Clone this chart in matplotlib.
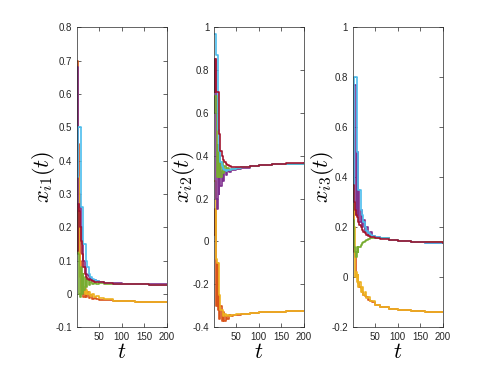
import matplotlib
matplotlib.use("Agg")
import matplotlib.pyplot as plt

plt.rcParams['mathtext.fontset'] = 'cm'
plt.rcParams['axes.unicode_minus'] = False
plt.rcParams['font.family'] = ['Liberation Sans', 'DejaVu Sans']

# Time breakpoints (stairs change value here)
t = [1, 3, 5, 7, 9, 11, 13, 15, 18, 21, 24, 27, 30, 34, 38, 42, 50, 60, 80, 100, 130, 160, 200]

# Component 1
x1_orange = [0.70, 0.45, 0.30, 0.10, 0.02, 0.00, 0.02, -0.01, 0.015, -0.01, 0.005, -0.012, -0.005, -0.015, -0.012, -0.017, -0.018, -0.020, -0.022, -0.023, -0.024, -0.025, -0.025]
x1_yellow = [0.46, 0.35, 0.12, 0.05, 0.00, 0.03, 0.01, 0.02, 0.00, 0.01, -0.002, 0.005, -0.006, -0.002, -0.010, -0.008, -0.013, -0.017, -0.021, -0.023, -0.024, -0.025, -0.025]
x1_purple = [0.68, 0.27, 0.26, 0.26, 0.20, 0.15, 0.12, 0.10, 0.08, 0.06, 0.055, 0.05, 0.045, 0.042, 0.040, 0.038, 0.035, 0.033, 0.031, 0.030, 0.029, 0.028, 0.027]
x1_green = [0.25, 0.12, 0.00, -0.01, 0.08, 0.00, 0.06, 0.01, 0.05, 0.02, 0.04, 0.025, 0.035, 0.028, 0.032, 0.030, 0.031, 0.030, 0.029, 0.028, 0.028, 0.027, 0.027]
x1_cyan = [0.35, 0.50, 0.50, 0.50, 0.26, 0.26, 0.26, 0.15, 0.15, 0.10, 0.08, 0.06, 0.05, 0.045, 0.040, 0.037, 0.034, 0.032, 0.030, 0.029, 0.028, 0.027, 0.027]
x1_red = [0.13, 0.27, 0.25, 0.20, 0.16, 0.12, 0.10, 0.08, 0.06, 0.05, 0.045, 0.042, 0.040, 0.038, 0.036, 0.035, 0.034, 0.032, 0.030, 0.029, 0.028, 0.027, 0.027]

# Component 2
x2_orange = [0.03, 0.15, -0.30, -0.10, -0.32, -0.25, -0.36, -0.30, -0.37, -0.33, -0.37, -0.35, -0.36, -0.345, -0.35, -0.345, -0.345, -0.34, -0.335, -0.33, -0.328, -0.326, -0.325]
x2_yellow = [0.28, 0.28, -0.08, -0.10, -0.10, -0.25, -0.25, -0.32, -0.32, -0.35, -0.34, -0.35, -0.345, -0.35, -0.345, -0.345, -0.34, -0.338, -0.334, -0.33, -0.328, -0.326, -0.325]
x2_purple = [0.70, 0.85, 0.20, 0.15, 0.45, 0.22, 0.40, 0.26, 0.33, 0.28, 0.33, 0.31, 0.33, 0.325, 0.335, 0.335, 0.34, 0.345, 0.352, 0.357, 0.361, 0.363, 0.365]
x2_green = [0.60, 0.68, 0.68, 0.30, 0.45, 0.30, 0.40, 0.30, 0.37, 0.32, 0.35, 0.33, 0.345, 0.335, 0.34, 0.34, 0.342, 0.346, 0.352, 0.357, 0.361, 0.363, 0.365]
x2_cyan = [0.97, 0.97, 0.87, 0.87, 0.52, 0.50, 0.42, 0.37, 0.35, 0.34, 0.335, 0.33, 0.335, 0.335, 0.338, 0.34, 0.342, 0.346, 0.352, 0.357, 0.361, 0.363, 0.365]
x2_red = [0.70, 0.85, 0.70, 0.70, 0.70, 0.50, 0.50, 0.42, 0.40, 0.38, 0.37, 0.36, 0.355, 0.35, 0.348, 0.347, 0.347, 0.349, 0.354, 0.358, 0.362, 0.364, 0.365]

# Component 3
x3_orange = [0.57, 0.10, 0.08, 0.00, 0.01, -0.02, -0.025, -0.04, -0.045, -0.06, -0.07, -0.075, -0.08, -0.09, -0.095, -0.10, -0.112, -0.12, -0.128, -0.132, -0.136, -0.138, -0.14]
x3_yellow = [0.33, 0.20, 0.00, 0.02, -0.02, 0.01, -0.04, -0.02, -0.06, -0.04, -0.07, -0.06, -0.085, -0.08, -0.095, -0.095, -0.11, -0.12, -0.128, -0.132, -0.136, -0.138, -0.14]
x3_purple = [0.35, 0.77, 0.77, 0.25, 0.50, 0.25, 0.35, 0.22, 0.27, 0.20, 0.23, 0.18, 0.20, 0.17, 0.18, 0.165, 0.16, 0.155, 0.148, 0.143, 0.14, 0.137, 0.135]
x3_green = [0.23, 0.12, 0.10, 0.08, 0.12, 0.10, 0.12, 0.12, 0.13, 0.135, 0.14, 0.145, 0.15, 0.152, 0.155, 0.157, 0.158, 0.156, 0.15, 0.146, 0.142, 0.139, 0.137]
x3_cyan = [0.30, 0.80, 0.80, 0.80, 0.50, 0.50, 0.35, 0.35, 0.27, 0.25, 0.22, 0.20, 0.185, 0.175, 0.17, 0.165, 0.16, 0.155, 0.148, 0.143, 0.14, 0.137, 0.135]
x3_red = [0.37, 0.30, 0.27, 0.25, 0.24, 0.23, 0.22, 0.21, 0.20, 0.19, 0.18, 0.175, 0.17, 0.165, 0.162, 0.16, 0.157, 0.154, 0.15, 0.146, 0.142, 0.139, 0.137]

colors = ['#D95319', '#EDB120', '#7E2F8E', '#77AC30', '#4DBEEE', '#A2142F']
panels = [
    ([x1_orange, x1_yellow, x1_purple, x1_green, x1_cyan, x1_red], r'$x_{i1}(t)$', (-0.1, 0.8), [-0.1, 0, 0.1, 0.2, 0.3, 0.4, 0.5, 0.6, 0.7, 0.8]),
    ([x2_orange, x2_yellow, x2_purple, x2_green, x2_cyan, x2_red], r'$x_{i2}(t)$', (-0.4, 1.0), [-0.4, -0.2, 0, 0.2, 0.4, 0.6, 0.8, 1]),
    ([x3_orange, x3_yellow, x3_purple, x3_green, x3_cyan, x3_red], r'$x_{i3}(t)$', (-0.2, 1.0), [-0.2, 0, 0.2, 0.4, 0.6, 0.8, 1]),
]
lefts = [0.157, 0.436, 0.719]
label_x = [-0.22, -0.19, -0.19]

fig = plt.figure(figsize=(4.91, 3.68), dpi=100)
for left, lx, (series, label, ylim, yticks) in zip(lefts, label_x, panels):
    ax = fig.add_axes([left, 0.111, 0.183, 0.815])
    for y, c in zip(series, colors):
        ax.plot(t, y, drawstyle='steps-post', color=c, lw=1.2)
    ax.set_xlim(1, 200)
    ax.set_ylim(*ylim)
    ax.set_xticks([50, 100, 150, 200])
    ax.set_yticks(yticks)
    ax.set_yticklabels(['%g' % v for v in yticks])
    ax.tick_params(direction='in', length=3, width=0.5, labelsize=7, colors='#262626', top=True, right=True, labeltop=False, labelright=False)
    for s in ax.spines.values():
        s.set_linewidth(0.5)
        s.set_color('#262626')
    ax.set_ylabel(label, fontsize=16)
    ax.yaxis.set_label_coords(lx, 0.5)
    ax.set_xlabel(r'$t$', fontsize=16, labelpad=0)

fig.savefig('out.png', dpi=100)
